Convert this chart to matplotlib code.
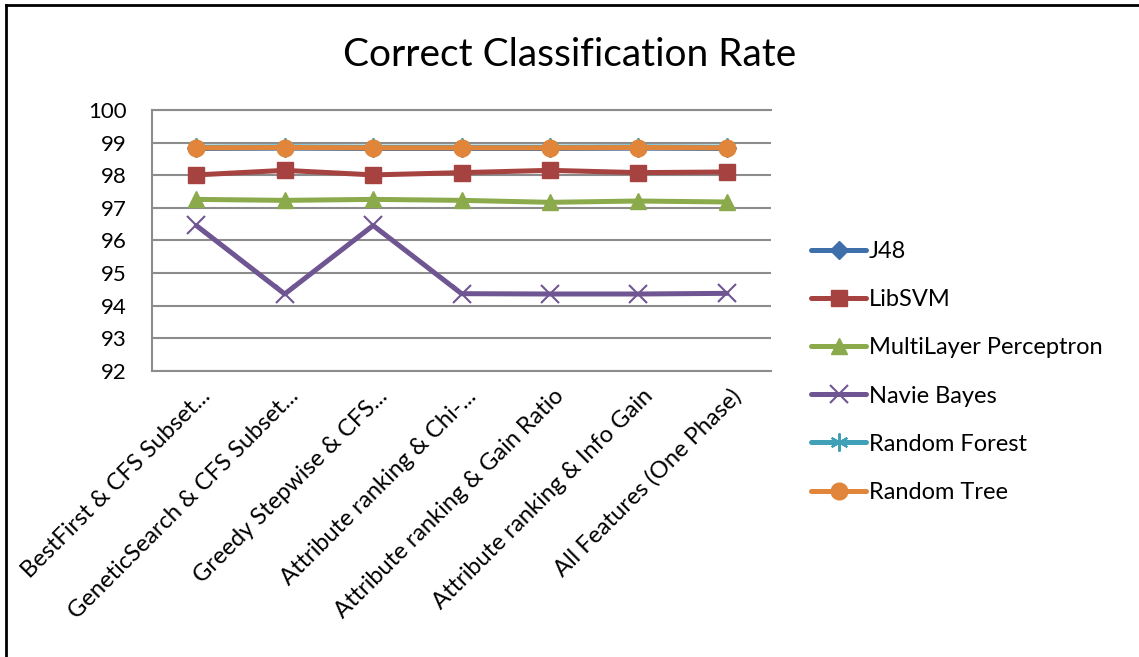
import matplotlib
matplotlib.use('Agg')
import matplotlib.pyplot as plt
import matplotlib.transforms as mtransforms
from matplotlib.lines import Line2D

plt.rcParams['font.family'] = ['Lato', 'DejaVu Sans']

# Feature selection setups on the x axis
METHODS = [
    'BestFirst & CFS Subset...',
    'GeneticSearch & CFS Subset...',
    'Greedy Stepwise & CFS...',
    'Attribute ranking & Chi-...',
    'Attribute ranking & Gain Ratio',
    'Attribute ranking & Info Gain',
    'All Features (One Phase)',
]

# Correct classification rate (%) per classifier
J48 = [98.82, 98.83, 98.82, 98.82, 98.82, 98.83, 98.82]
LIBSVM = [98.01, 98.15, 98.01, 98.08, 98.15, 98.08, 98.10]
MLP = [97.26, 97.23, 97.26, 97.23, 97.17, 97.21, 97.18]
NAIVE_BAYES = [96.46, 94.36, 96.46, 94.37, 94.36, 94.36, 94.38]
RANDOM_FOREST = [98.86, 98.87, 98.86, 98.86, 98.86, 98.87, 98.86]
RANDOM_TREE = [98.84, 98.85, 98.84, 98.84, 98.84, 98.85, 98.84]

SERIES = [
    ('J48', J48, '#3F6FAA', 'D', 9, None),
    ('LibSVM', LIBSVM, '#A6423F', 's', 12, None),
    ('MultiLayer Perceptron', MLP, '#8AAA4B', '^', 12, None),
    ('Navie Bayes', NAIVE_BAYES, '#6F5592', 'x', 13, 1.5),
    ('Random Forest', RANDOM_FOREST, '#40A0B8', (6, 2, 0), 13, 1.5),
    ('Random Tree', RANDOM_TREE, '#E0853A', 'o', 12, None),
]

fig = plt.figure(figsize=(11.39, 6.57), dpi=100)
ax = fig.add_axes([0.1335, 0.4353, 0.5435, 0.3973])

x = list(range(len(METHODS)))
handles = []
for name, vals, color, marker, ms, mew in SERIES:
    kw = dict(color=color, linewidth=3.6, marker=marker, markersize=ms,
              markerfacecolor=color, markeredgecolor=color, solid_capstyle='round')
    if mew is not None:
        kw['markeredgewidth'] = mew
    ax.plot(x, vals, label=name, **kw)
    handles.append(Line2D([], [], **kw))

ax.set_xlim(-0.5, len(METHODS) - 0.5)
ax.set_ylim(92, 100)
ax.set_yticks(range(92, 101))
ax.grid(axis='y', color='#8C8C8C', linewidth=1.5)
ax.set_axisbelow(True)

ax.spines['right'].set_visible(False)
for side in ['left', 'bottom', 'top']:
    ax.spines[side].set_color('#8C8C8C')
    ax.spines[side].set_linewidth(1.5)

ax.tick_params(axis='y', length=0, pad=18, labelsize=16)
ax.tick_params(axis='x', length=0, pad=0)
ax.set_xticks(x)
ax.set_xticklabels(METHODS, rotation=45, ha='right', va='center',
                   rotation_mode='anchor', fontsize=17)
shift = mtransforms.ScaledTranslation(11 / 100, -22 / 100, fig.dpi_scale_trans)
for lbl in ax.get_xticklabels():
    lbl.set_transform(lbl.get_transform() + shift)

fig.text(0.5, 0.917, 'Correct Classification Rate', ha='center', va='center',
         fontsize=28)

fig.legend(handles=handles, labels=[s[0] for s in SERIES],
           loc='upper left', bbox_to_anchor=(0.7015, 0.651), frameon=False,
           fontsize=17, handlelength=2.35, handletextpad=0.12,
           labelspacing=1.15, borderpad=0)

# frame around the chart (left and top edges visible)
fig.add_artist(Line2D([6 / 1139, 6 / 1139], [0, 1 - 5 / 657], color='black',
                      linewidth=2, transform=fig.transFigure))
fig.add_artist(Line2D([6 / 1139, 1], [1 - 5 / 657, 1 - 5 / 657], color='black',
                      linewidth=2, transform=fig.transFigure))

fig.savefig('out.png', dpi=100, facecolor='white')
